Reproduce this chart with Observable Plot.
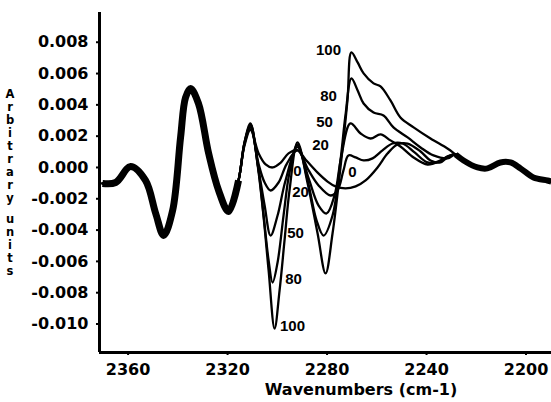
<!DOCTYPE html>
<html><head><meta charset="utf-8">
<script src="https://cdn.jsdelivr.net/npm/d3@7"></script>
<script src="https://cdn.jsdelivr.net/npm/@observablehq/plot@0.6"></script>
<style>body{margin:0;background:#fff;}</style>
</head><body><div id="chart"></div>
<script>
// ---- data ----
const xTicks = [2360, 2320, 2280, 2240, 2200];
const xTickLabels = ["2360", "2320", "2280", "2240", "2200"];
const yTicks = [-0.010, -0.008, -0.006, -0.004, -0.002, 0, 0.002, 0.004, 0.006, 0.008];
const yTickLabels = ["-0.010", "-0.008", "-0.006", "-0.004", "-0.002", "0.000", "0.002", "0.004", "0.006", "0.008"];
const xTitle = "Wavenumbers (cm-1)";
const yTitle = "Arbitrary units";

// shared part (all spectra overlap)
const commonWn  = [2370.3, 2365.0, 2359.0, 2353.0, 2348.9, 2345.7, 2342.1, 2338.9, 2336.9, 2334.9, 2331.7, 2327.6, 2323.6, 2319.6, 2315.6];
const commonAbs = [-0.00102, -0.00096, 0.00006, -0.00083, -0.00294, -0.00434, -0.00275, 0.00192, 0.00447, 0.00505, 0.00409, 0.00089, -0.00147, -0.00281, -0.00083];

// tail (all spectra overlap)
const tailWn  = [2228.3, 2225.1, 2219.5, 2215.5, 2210.3, 2206.2, 2202.2, 2197.0, 2191.4, 2189.8];
const tailAbs = [0.00083, 0.00045, 0.0, -0.00006, 0.00032, 0.00032, -0.00006, -0.00064, -0.00083, -0.0009];

// individual spectra
const wn100  = [2313.2, 2310.8, 2307.9, 2305.5, 2303.5, 2301.1, 2299.1, 2297.1, 2295.1, 2291.9, 2287.8, 2283.8, 2280.6, 2277.8, 2274.6, 2271.8, 2270.2, 2267.7, 2265.3, 2261.3, 2258.5, 2254.5, 2250.5, 2245.2, 2238.4, 2231.6];
const abs100 = [0.00160, 0.00281, 0.00013, -0.00319, -0.00658, -0.01029, -0.00786, -0.00466, -0.00147, 0.00160, -0.00102, -0.00422, -0.00677, -0.00422, 0.0, 0.00428, 0.00735, 0.00671, 0.00601, 0.00537, 0.00518, 0.00428, 0.00319, 0.00256, 0.00185, 0.00121];

const wn80  = [2313.2, 2310.8, 2307.9, 2305.5, 2303.5, 2301.9, 2299.9, 2297.5, 2295.1, 2291.9, 2287.8, 2284.2, 2281.4, 2277.8, 2274.6, 2272.6, 2270.2, 2267.7, 2265.3, 2261.3, 2257.3, 2253.3, 2247.6, 2242.4, 2237.2, 2231.6];
const abs80 = [0.00158, 0.00275, 0.00026, -0.00307, -0.00594, -0.00735, -0.00607, -0.00307, -0.00032, 0.00145, -0.00083, -0.00339, -0.00435, -0.00307, 0.00045, 0.00332, 0.00569, 0.00492, 0.00409, 0.00351, 0.00332, 0.00256, 0.00192, 0.00128, 0.00077, 0.00058];

const wn50  = [2313.2, 2310.8, 2307.5, 2305.1, 2302.7, 2299.9, 2296.7, 2291.9, 2287.4, 2283.4, 2280.2, 2277.0, 2274.2, 2270.6, 2266.5, 2262.5, 2258.5, 2254.5, 2250.5, 2245.2, 2239.6, 2234.4, 2231.6];
const abs50 = [0.00155, 0.00268, -0.00019, -0.00243, -0.00435, -0.00307, -0.00083, 0.00130, -0.0007, -0.00243, -0.00294, -0.00179, 0.00077, 0.00281, 0.00217, 0.00185, 0.00211, 0.00173, 0.00134, 0.00064, 0.00019, 0.00045, 0.0007];

const wn20  = [2313.2, 2310.8, 2307.5, 2305.1, 2302.7, 2299.5, 2296.3, 2291.9, 2287.4, 2283.4, 2278.6, 2275.8, 2273.4, 2271.4, 2268.5, 2265.3, 2261.7, 2257.7, 2253.7, 2249.6, 2244.8, 2239.6, 2234.4, 2231.6];
const abs20 = [0.00150, 0.00255, 0.00020, -0.00096, -0.00147, -0.00096, 0.00020, 0.00110, -0.00019, -0.00115, -0.00179, -0.00147, -0.00019, 0.00077, 0.00064, 0.00045, 0.00058, 0.00109, 0.00153, 0.00153, 0.00096, 0.00032, 0.00038, 0.0007];

const wn0  = [2313.2, 2310.8, 2307.5, 2304.7, 2301.9, 2298.7, 2295.5, 2291.9, 2288.6, 2284.0, 2279.8, 2276.6, 2272.6, 2268.5, 2264.5, 2259.7, 2255.7, 2251.7, 2247.6, 2242.4, 2238.4, 2234.4, 2231.6];
const abs0 = [0.00140, 0.00240, 0.00090, 0.00020, 0.00000, 0.00030, 0.00090, 0.00110, 0.00050, -0.00030, -0.00090, -0.00121, -0.00134, -0.00121, -0.00083, 0.0, 0.00089, 0.00147, 0.00153, 0.00102, 0.00045, 0.00032, 0.00064];

// curve labels
const labelText = ["100", "80", "50", "20", "0", "0", "20", "50", "80", "100"];
const labelWn   = [2279.4, 2279.4, 2281.0, 2282.6, 2269.75, 2291.9, 2290.65, 2292.7, 2293.5, 2293.9];
const labelAbs  = [0.00748, 0.00454, 0.00288, 0.00141, -0.00032, -0.00025, -0.0016, -0.00422, -0.00716, -0.01016];

// ---- build ----
const xDomain = [2371.5, 2189.75];
const yDomain = [-0.01182, 0.0099];
const toRows = (wn, ab) => wn.map((w, i) => ({w, v: ab[i]}));
const series = [
  {name: "0", wn: wn0, ab: abs0},
  {name: "20", wn: wn20, ab: abs20},
  {name: "50", wn: wn50, ab: abs50},
  {name: "80", wn: wn80, ab: abs80},
  {name: "100", wn: wn100, ab: abs100}
];
const rows = series.flatMap(s =>
  [...toRows(commonWn, commonAbs), ...toRows(s.wn, s.ab), ...toRows(tailWn, tailAbs)].map(d => ({...d, s: s.name}))
);
const labels = labelText.map((t, i) => ({t, w: labelWn[i], v: labelAbs[i]}));

const plot = Plot.plot({
  width: 551, height: 402,
  marginLeft: 99, marginRight: 0, marginTop: 12, marginBottom: 50,
  style: {fontFamily: "DejaVu Sans", fontWeight: "bold", fontSize: "16px", background: "#fff", color: "#000"},
  x: {domain: xDomain},
  y: {domain: yDomain},
  marks: [
    Plot.axisX({ticks: xTicks, tickFormat: d => xTickLabels[xTicks.indexOf(d)], tickSize: 3, tickPadding: 8, label: null, strokeWidth: 2}),
    Plot.axisY({ticks: yTicks, tickFormat: d => yTickLabels[yTicks.indexOf(d)], tickSize: 3, tickPadding: 8, label: null, strokeWidth: 2}),
    Plot.line(rows, {x: "w", y: "v", z: "s", curve: "catmull-rom", stroke: "#000", strokeWidth: 2.3, strokeLinejoin: "round", strokeLinecap: "round"}),
    Plot.line(toRows(commonWn, commonAbs), {x: "w", y: "v", curve: "catmull-rom", stroke: "#000", strokeWidth: 7, strokeLinejoin: "round", strokeLinecap: "butt"}),
    Plot.line(toRows(tailWn, tailAbs), {x: "w", y: "v", curve: "catmull-rom", stroke: "#000", strokeWidth: 6, strokeLinejoin: "round", strokeLinecap: "butt"}),
    Plot.ruleX([xDomain[0]], {stroke: "#000", strokeWidth: 3}),
    Plot.ruleY([yDomain[0]], {stroke: "#000", strokeWidth: 3}),
    Plot.text(labels, {x: "w", y: "v", text: "t", fontFamily: "Liberation Sans", fontSize: 15, fontWeight: "bold", fill: "#000"})
  ]
});

const svg = d3.select(plot);
svg.append("text")
  .attr("x", 361).attr("y", 395)
  .attr("text-anchor", "middle")
  .attr("font-family", "DejaVu Sans").attr("font-weight", "bold").attr("font-size", 16)
  .attr("fill", "#000")
  .text(xTitle);

const yt = svg.append("text")
  .attr("text-anchor", "middle")
  .attr("font-family", "DejaVu Sans").attr("font-weight", "bold").attr("font-size", 11.5)
  .attr("fill", "#000");
let by = 98;
for (const ch of yTitle) {
  if (ch === " ") { by += 8; continue; }
  yt.append("tspan").attr("x", 10).attr("y", by).text(ch);
  by += 13;
}

document.getElementById("chart").appendChild(plot);
</script>
</body></html>
